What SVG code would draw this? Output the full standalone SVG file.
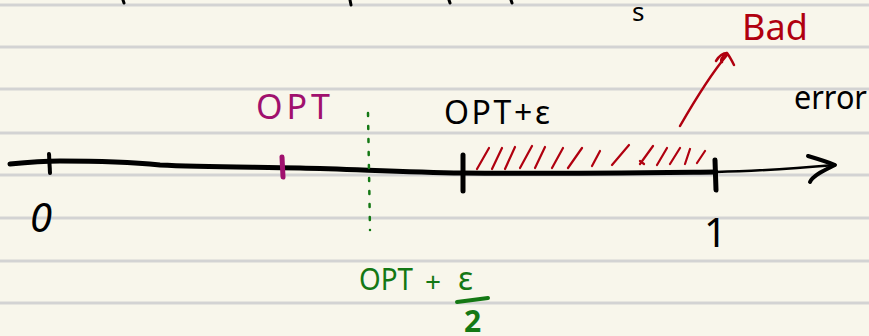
<svg xmlns="http://www.w3.org/2000/svg" width="869" height="336" viewBox="0 0 869 336">
<style>
.rule{stroke:#d3d3d3;stroke-width:3;fill:none}
.pen{fill:none;stroke-linecap:round;stroke-linejoin:round}
.blk{stroke:#000}
.red{stroke:#b0000f}
.grn{stroke:#147814}
.mag{stroke:#a0106e}
.t{font-family:"Noto Sans","DejaVu Sans",sans-serif}
</style>
<rect x="0" y="0" width="869" height="336" fill="#f8f6eb"/>
<g id="ruled-lines">
<line class="rule" x1="0" y1="5" x2="869" y2="5"/>
<line class="rule" x1="0" y1="47" x2="869" y2="47"/>
<line class="rule" x1="0" y1="89" x2="869" y2="89"/>
<line class="rule" x1="0" y1="133" x2="869" y2="133"/>
<line class="rule" x1="0" y1="175" x2="869" y2="175"/>
<line class="rule" x1="0" y1="218" x2="869" y2="218"/>
<line class="rule" x1="0" y1="261" x2="869" y2="261"/>
<line class="rule" x1="0" y1="303" x2="869" y2="303"/>
</g>
<g id="top-fragments">
<path class="pen blk" stroke-width="3" d="M123,0 L124,3 M350,0 L351,5 M449,0 L450,3 M511,0 L512,3"/>
<text class="t" x="632" y="21" font-size="26" fill="#000">s</text>
</g>
<g id="axis">
<path class="pen blk" stroke-width="5" d="M10,164 C30,162 45,161 60,161 C100,161 130,162 160,165 C200,167 250,167 300,168 C350,169 400,172 463,173 C540,174 620,173 716,172"/>
<path class="pen blk" stroke-width="2.5" d="M716,172 C760,171 800,168 835,165"/>
<path class="pen blk" stroke-width="4" d="M808,156 C818,159 828,162 835,165 C825,170 813,175 810,182"/>
</g>
<g id="tick-0">
<path class="pen blk" stroke-width="4" d="M49,154 L50,173"/>
<text class="t" x="30" y="232" font-size="40" font-style="italic" fill="#000">0</text>
</g>
<g id="tick-opt">
<path class="pen mag" stroke-width="5" d="M282,157 L283,177"/>
<text class="t" x="256" y="119" font-size="34" fill="#a0106e" textLength="74" lengthAdjust="spacing">OPT</text>
</g>
<g id="tick-opt-eps">
<path class="pen blk" stroke-width="5" d="M463,155 L463,191"/>
<text class="t" x="444" y="124" font-size="32" fill="#000" textLength="106" lengthAdjust="spacing">OPT+ε</text>
</g>
<g id="tick-1">
<path class="pen blk" stroke-width="5" d="M715,160 L716,190"/>
<text class="t" x="704" y="247" font-size="40" fill="#000">1</text>
</g>
<g id="midpoint">
<path class="pen grn" stroke-width="2.5" stroke-dasharray="3 10" d="M368,113 L370,230"/>
<text class="t" x="359" y="290" font-size="30" fill="#147814" textLength="54" lengthAdjust="spacingAndGlyphs">OPT</text>
<text class="t" x="425" y="292" font-size="28" fill="#147814">+</text>
<text class="t" x="458" y="290" font-size="32" fill="#147814">ε</text>
<path class="pen grn" stroke-width="4" d="M457,302 L488,298"/>
<text class="t" x="464" y="332" font-size="30" font-weight="bold" fill="#147814">2</text>
</g>
<g id="error-label">
<text class="t" x="794" y="109" font-size="32" fill="#000" textLength="73" lengthAdjust="spacingAndGlyphs">error</text>
</g>
<g id="bad-region">
<path class="pen red" stroke-width="2.2" d="M477,169 L489,148 M492,169 L502,148 M505,169 L515,147 M520,168 L532,146 M535,168 L545,147 M552,168 L563,148 M568,168 L582,148 M592,166 L600,151 M612,165 L629,145 M640,164 L653,146 M644,164 L640,161 M657,165 L667,148 M670,164 L680,148 M685,164 L690,149 M697,163 L705,151"/>
<text class="t" x="742" y="40" font-size="36" fill="#b0000f" textLength="66" lengthAdjust="spacing">Bad</text>
</g>
<g id="connectors">
<path class="pen red" stroke-width="2.5" d="M680,126 C695,100 710,75 727,55"/>
<path class="pen red" stroke-width="2.5" d="M716,61 C719,56 723,53 727,53 C730,57 732,61 734,65 M727,53 C722,57 720,60 722,62"/>
</g>
</svg>
